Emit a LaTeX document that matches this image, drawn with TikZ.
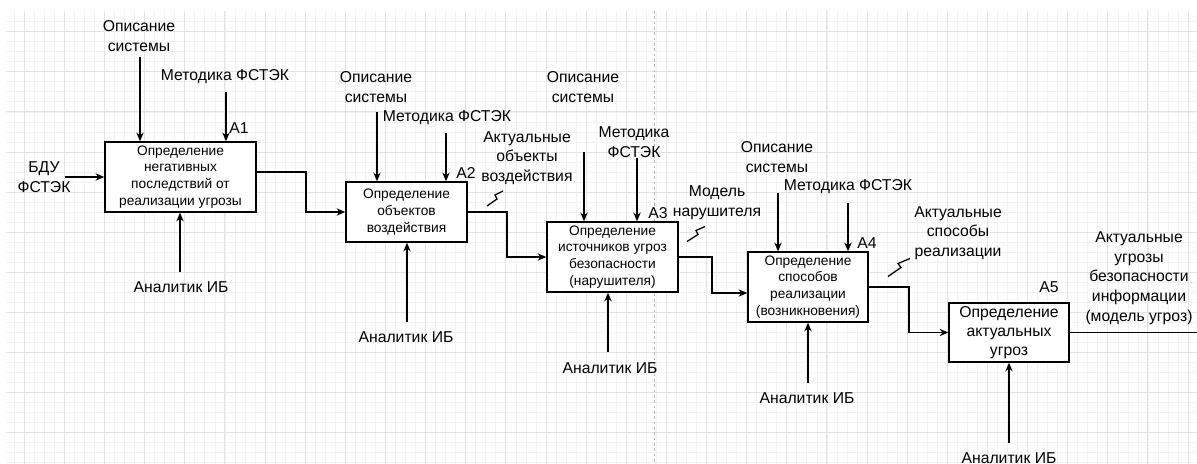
\documentclass[tikz,border=0pt]{standalone}
\usepackage{fontspec}
\setmainfont{Liberation Sans}
\usetikzlibrary{arrows.meta,calc}
\begin{document}
\begin{tikzpicture}[x=0.75pt,y=-0.75pt,
  gmin/.style={draw=black!5, line width=0.6pt},
  gmaj/.style={draw=black!11, line width=0.7pt},
  pagebreak/.style={draw=black!30, line width=0.7pt, dash pattern=on 2pt off 2pt},
  box/.style={draw, line width=1.1pt, inner sep=0pt, align=center, fill=white,
    font=\fontsize{10.3}{12.6}\selectfont},
  bigbox/.style={box, font=\fontsize{11.8}{14.3}\selectfont},
  lbl/.style={inner sep=0pt, align=center, font=\fontsize{11.8}{14.8}\selectfont},
  conn/.style={line width=0.95pt},
  arr/.style={conn, -{Stealth[length=6.5pt,width=5.5pt]}}
]
\useasboundingbox (0,0) rectangle (1197,464);
\fill[white] (0,0) rectangle (1197,464);
% grid
\foreach \i in {0,...,118} {\pgfmathsetmacro\xx{14.27+10.033*\i}
  \draw[gmin] (\xx,11) -- (\xx,464);}
\foreach \i in {1,...,45} {\pgfmathsetmacro\yy{11.65+10.025*\i}
  \draw[gmin] (6,\yy) -- (1197,\yy);}
\foreach \i in {0,...,29} {\pgfmathsetmacro\xx{24.3+40.13*\i}
  \draw[gmaj] (\xx,11) -- (\xx,464);}
\foreach \i in {0,...,10} {\pgfmathsetmacro\yy{31.7+40.1*\i}
  \draw[gmaj] (6,\yy) -- (1197,\yy);}
\coordinate (pbt) at (654,11);
\coordinate (pbb) at (654,464);
\draw[pagebreak] (pbt) -- (pbb);

% boxes
\node[box, minimum width=151*0.75pt, minimum height=70*0.75pt] (A1) at (180.5,177)
  {Определение\\негативных\\последствий от\\реализации угрозы};
\node[box, minimum width=121*0.75pt, minimum height=60*0.75pt] (A2) at (406.5,212)
  {Определение\\объектов\\воздействия};
\node[box, minimum width=131*0.75pt, minimum height=70*0.75pt] (A3) at (612.5,257)
  {Определение\\источников угроз\\безопасности\\(нарушителя)};
\node[box, minimum width=120*0.75pt, minimum height=70*0.75pt] (A4) at (808,287)
  {Определение\\способов\\реализации\\(возникновения)};
\node[bigbox, minimum width=120*0.75pt, minimum height=59*0.75pt] (A5) at (1009,332.5)
  {Определение\\актуальных\\угроз};

% box numbers
\node[lbl] (n1) at (239,128) {A1};
\node[lbl] (n2) at (466,173) {A2};
\node[lbl] (n3) at (658,213) {A3};
\node[lbl] (n4) at (867,243) {A4};
\node[lbl] (n5) at (1049,287) {A5};

% labels
\node[lbl] (in1) at (44,177) {БДУ\\ФСТЭК};
\node[lbl] (d1) at (139,36) {Описание\\системы};
\node[lbl] (f1) at (225,77) {Методика ФСТЭК};
\node[lbl] (a1) at (181,287) {Аналитик ИБ};
\node[lbl] (d2) at (376,87) {Описание\\системы};
\node[lbl] (f2) at (447,118) {Методика ФСТЭК};
\node[lbl] (a2) at (406,337) {Аналитик ИБ};
\node[lbl] (o2) at (527,158) {Актуальные\\объекты\\воздействия};
\node[lbl] (d3) at (583,87) {Описание\\системы};
\node[lbl] (f3) at (634,142) {Методика\\ФСТЭК};
\node[lbl] (a3) at (610,368) {Аналитик ИБ};
\node[lbl] (o3) at (717,203) {Модель\\нарушителя};
\node[lbl] (d4) at (777,157) {Описание\\системы};
\node[lbl] (f4) at (848,187) {Методика ФСТЭК};
\node[lbl] (a4) at (807,398) {Аналитик ИБ};
\node[lbl] (o4) at (958,233) {Актуальные\\способы\\реализации};
\node[lbl] (a5) at (1009,458) {Аналитик ИБ};
\node[lbl] (o5) at (1139,278) {Актуальные\\угрозы\\безопасности\\информации\\(модель угроз)};

% free ends
\coordinate (i1) at (65,177);
\coordinate (c11) at (140,57);
\coordinate (c12) at (226,92);
\coordinate (m1) at (180,272);
\coordinate (c21) at (377,112);
\coordinate (c22) at (446,133);
\coordinate (m2) at (407,322);
\coordinate (c31) at (584,152);
\coordinate (c32) at (637,158);
\coordinate (m3) at (608,352);
\coordinate (c41) at (778,193);
\coordinate (c42) at (848,203);
\coordinate (m4) at (808,383);
\coordinate (m5) at (1009,443);
\coordinate (b1) at (306,172);
\coordinate (b2) at (507,212);
\coordinate (b3) at (712,257);
\coordinate (b4) at (909,287);
\coordinate (out5) at (1200,332.5);

% inputs / controls / mechanisms
\draw[arr] (i1) -- (A1.west);
\draw[arr] (c11) -- (c11 |- A1.north);
\draw[arr] (c12) -- (c12 |- A1.north);
\draw[arr] (m1) -- (m1 |- A1.south);
\draw[arr] (c21) -- (c21 |- A2.north);
\draw[arr] (c22) -- (c22 |- A2.north);
\draw[arr] (m2) -- (m2 |- A2.south);
\draw[arr] (c31) -- (c31 |- A3.north);
\draw[arr] (c32) -- (c32 |- A3.north);
\draw[arr] (m3) -- (m3 |- A3.south);
\draw[arr] (c41) -- (c41 |- A4.north);
\draw[arr] (c42) -- (c42 |- A4.north);
\draw[arr] (m4) -- (m4 |- A4.south);
\draw[arr] (m5) -- (m5 |- A5.south);

% outputs
\draw[arr] ($(A1.east)+(0,-5)$) -- (b1) |- (A2.west);
\draw[arr] (A2.east) -- (b2) |- (A3.west);
\draw[arr] (A3.east) -- (b3) |- ($(A4.west)+(0,6)$);
\draw[arr] (A4.east) -- (b4) |- (A5.west);
\draw[conn] (A5.east) -- (out5);

% squiggles
\coordinate (z1) at (487,206);
\coordinate (z2) at (687,241.5);
\coordinate (z3) at (888,276.5);
\draw[conn] (z1) -- ++(10,-7) -- ++(-2,-4) -- ++(8,-4);
\draw[conn] (z2) -- ++(11,-7) -- ++(-2,-4) -- ++(9,-4);
\draw[conn] (z3) -- ++(13,-9) -- ++(-3,-4) -- ++(12,-5);
\end{tikzpicture}
\end{document}
